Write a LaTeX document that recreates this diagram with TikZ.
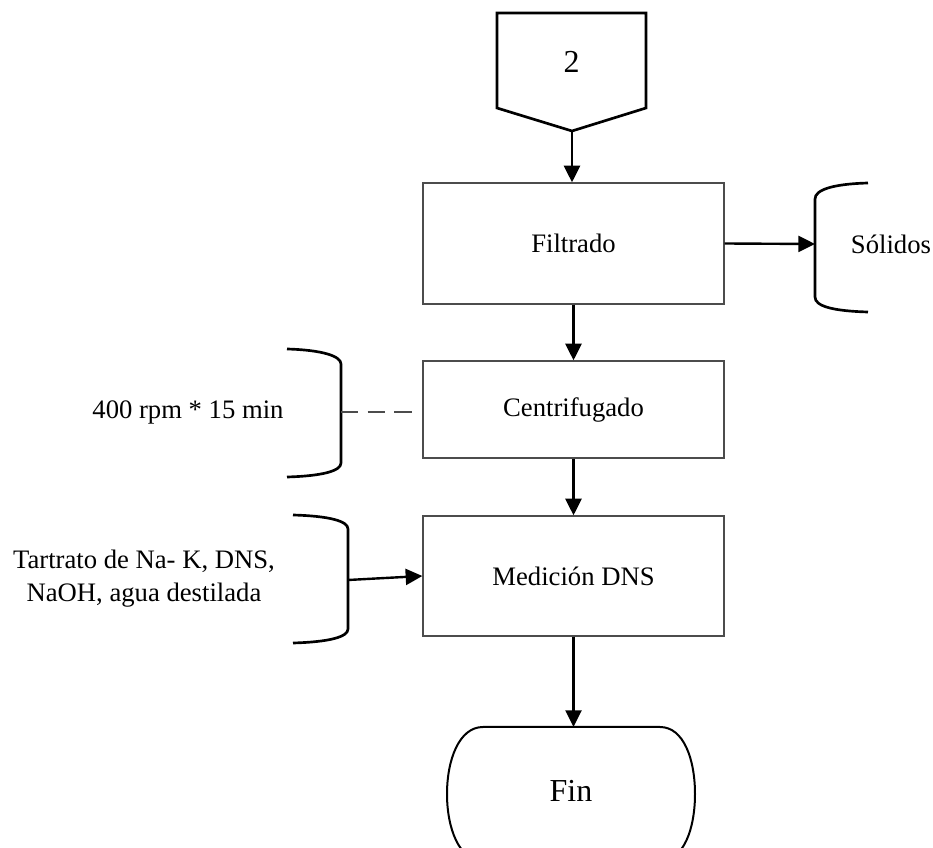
\documentclass[tikz,border=0pt]{standalone}
\usepackage{fontspec}
\setmainfont{Liberation Serif}
\usetikzlibrary{arrows.meta}
\begin{document}
\begin{tikzpicture}[x=0.75pt,y=-0.75pt,
  procbox/.style={draw=black!70, line width=1pt, minimum width=225.75pt, inner sep=0pt, font=\fontsize{20}{24}\selectfont},
  arr/.style={line width=1.8pt, -{Triangle[length=12.5pt,width=12pt]}},
  bracestyle/.style={line width=2pt},
  lbl/.style={font=\fontsize{20}{24.75}\selectfont, inner sep=0pt, align=center},
  dashline/.style={line width=1.3pt, draw=black!70, dash pattern=on 13pt off 7pt}]
\useasboundingbox (0,0) rectangle (933,848);
\clip (0,0) rectangle (933,848);

% off-page connector
\draw[line width=2pt, line join=miter] (497,13) -- (646,13) -- (646,108) -- (572,131) coordinate (tip) -- (497,108) -- cycle;
\node (c2) [font=\fontsize{24}{28}\selectfont] at (571.5,62) {2};

% process boxes
\node (filt) [procbox, minimum height=90.75pt] at (573.5,243.5) {Filtrado};
\node (cent) [procbox, minimum height=72.75pt] at (573.5,409.5) {Centrifugado};
\node (med)  [procbox, minimum height=90pt] at (573.5,576) {Medición DNS};

% Solidos brace
\draw[bracestyle] (868,183) .. controls (832,184) and (815,190) .. (815,199)
  -- (815,297) .. controls (815,306) and (832,311) .. (868,312);
\coordinate (bsol) at (815,244);
\node (sol) [lbl] at (891,244) {Sólidos};

% centrifugado brace
\draw[bracestyle] (287,349) .. controls (322,350) and (341,356) .. (341,364)
  -- (341,463) .. controls (341,471) and (322,476) .. (287,477);
\coordinate (bcen) at (341,412);
\node (rpm) [lbl] at (188,412) {400 rpm * 15 min};

% medicion brace
\draw[bracestyle] (293,515) .. controls (329,516) and (348,521) .. (348,529)
  -- (348,629) .. controls (348,637) and (329,642) .. (293,643);
\coordinate (bmed) at (348,580);
\node (reac) [lbl] at (144,578.5) {Tartrato de Na- K, DNS,\\NaOH, agua destilada};

% terminal Fin
\draw[line width=1.5pt] (483,727) -- (660,727)
  .. controls (684,727) and (695,760) .. (695,794)
  .. controls (695,828) and (684,861) .. (660,861)
  -- (483,861)
  .. controls (459,861) and (447,828) .. (447,794)
  .. controls (447,760) and (459,727) .. (483,727) -- cycle;
\coordinate (fintop) at (572,727);
\node (fin) [font=\fontsize{24}{28}\selectfont] at (571,791) {Fin};

% connectors
\draw[arr] (tip) -- (tip |- filt.north);
\draw[arr] (filt.east) -- (bsol);
\draw[arr] (filt.south) -- (cent.north);
\draw[dashline, shorten >=4pt] (bcen) -- (bcen -| cent.west);
\draw[arr] (cent.south) -- (med.north);
\draw[arr] (bmed) -- (med.west);
\draw[arr] (med.south) -- (med.south |- fintop);
\end{tikzpicture}
\end{document}
